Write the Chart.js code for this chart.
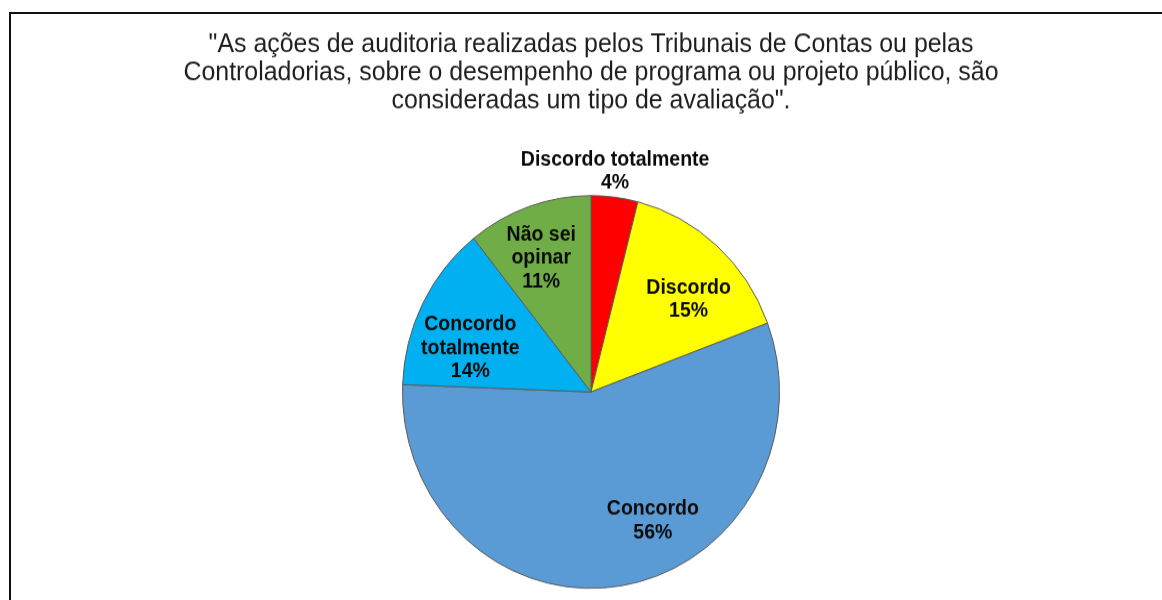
<!DOCTYPE html>
<html>
<head>
<meta charset="utf-8">
<script src="https://cdn.jsdelivr.net/npm/chart.js@4/dist/chart.umd.min.js"></script>
<style>
  html, body { margin: 0; padding: 0; background: #fff; overflow: hidden; }
  #wrap { position: absolute; left: 0; top: 0; width: 1162px; height: 576px; transform-origin: 0 0; transform: scaleY(1.0417); }
  #frame { position: absolute; left: 9px; top: 12px; width: 1300px; height: 800px; border-left: 2px solid #111; border-top: 2px solid #111; pointer-events: none; }
</style>
</head>
<body>
<div id="wrap"><canvas id="c" width="1162" height="576"></canvas></div>
<div id="frame"></div>
<script>
// ---- data ----
const categories = ['Discordo totalmente', 'Discordo', 'Concordo', 'Concordo totalmente', 'Não sei opinar'];
const values = [4, 15.3, 56.3, 13.7, 10.7];
const percentLabels = ['4%', '15%', '56%', '14%', '11%'];
const labelLines = [['Discordo totalmente'], ['Discordo'], ['Concordo'], ['Concordo', 'totalmente'], ['Não sei', 'opinar']];
const titleLines = [
  '"As ações de auditoria realizadas pelos Tribunais de Contas ou pelas',
  'Controladorias, sobre o desempenho de programa ou projeto público, são',
  'consideradas um tipo de avaliação".'
];

// ---- styles ----
const colors = ['#ff0000', '#ffff00', '#5b9bd5', '#00b0f0', '#70ad47'];
const labelPlace = [ // angle (deg, clockwise from top), radius fraction
  { a: 6.5, r: 1.13 },
  { a: 47.7, r: 0.70 },
  { a: 153.4, r: 0.733 },
  { a: 289.2, r: 0.678 },
  { a: 338.8, r: 0.73 }
];

const sliceLabels = {
  id: 'sliceLabels',
  afterDatasetsDraw(chart) {
    const ctx = chart.ctx;
    const meta = chart.getDatasetMeta(0);
    ctx.save();
    ctx.font = 'bold 19.5px "Liberation Sans", Arial, sans-serif';
    ctx.fillStyle = '#0a0a0a';
    ctx.textAlign = 'center';
    ctx.textBaseline = 'middle';
    const lh = 22.6;
    meta.data.forEach((arc, i) => {
      const p = arc.getProps(['x', 'y', 'outerRadius'], true);
      const ang = (labelPlace[i].a - 90) * Math.PI / 180;
      const rr = p.outerRadius * labelPlace[i].r;
      const cx = p.x + rr * Math.cos(ang);
      const cy = p.y + rr * Math.sin(ang);
      const lines = labelLines[i].concat([percentLabels[i]]);
      lines.forEach((t, j) => {
        ctx.fillText(t, cx, cy + (j - (lines.length - 1) / 2) * lh);
      });
    });
    ctx.restore();
  }
};

new Chart(document.getElementById('c'), {
  type: 'pie',
  data: {
    labels: categories,
    datasets: [{
      data: values,
      backgroundColor: colors,
      borderColor: '#5a5a5a',
      borderWidth: 1
    }]
  },
  options: {
    responsive: false,
    animation: false,
    layout: { padding: { left: 20, right: 0, top: 0, bottom: 10.7 } },
    plugins: {
      legend: { display: false },
      tooltip: { enabled: false },
      title: {
        display: true,
        text: titleLines,
        color: '#1e1e1e',
        font: { family: '"Liberation Sans", Arial, sans-serif', size: 24.9, weight: 'normal', lineHeight: 1.08 },
        padding: { top: 29.5, bottom: 77.1 }
      }
    }
  },
  plugins: [sliceLabels]
});
</script>
</body>
</html>
